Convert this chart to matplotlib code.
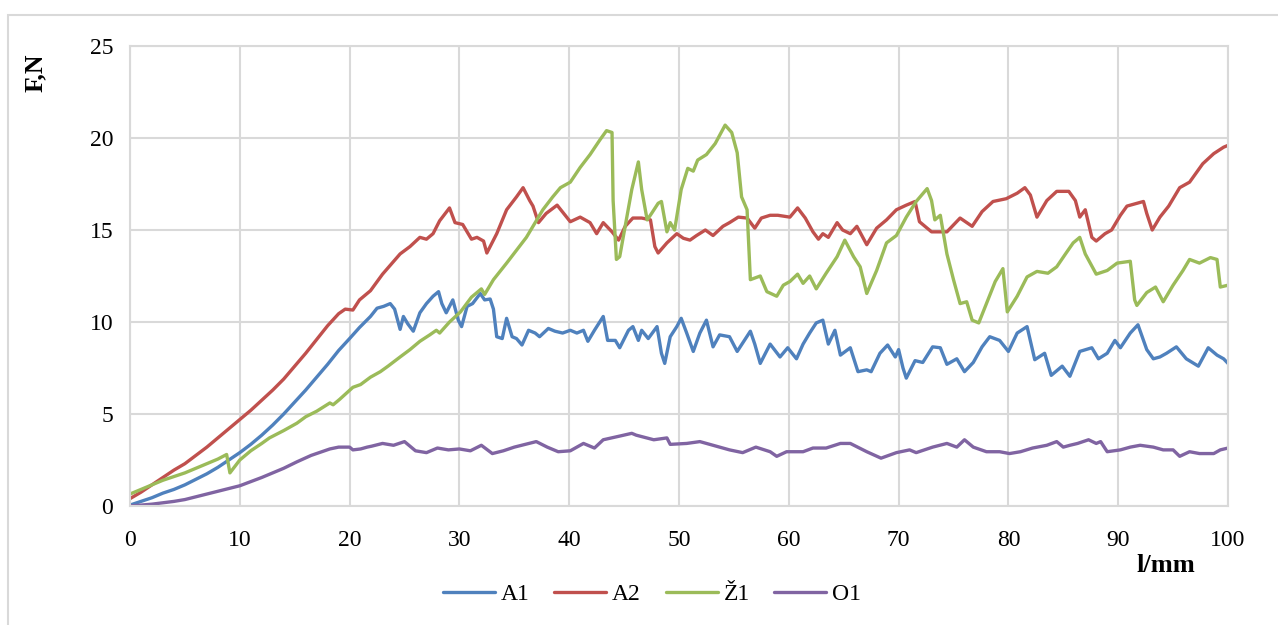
import matplotlib
matplotlib.use("Agg")
import matplotlib.pyplot as plt
from matplotlib.patches import Rectangle

plt.rcParams["font.family"] = ["Liberation Serif", "DejaVu Serif"]

# Force F (N) against travel l (mm) for the four samples
a1_x = [0, 1, 2, 3, 4, 5, 6, 7, 8, 9, 10, 11, 12, 13, 14, 15, 16, 17, 18, 19, 20,
        20.9, 21.9, 22.5, 23.1, 23.7, 24.1, 24.6, 24.9, 25.3, 25.8, 26.4, 27.0,
        27.6, 28.1, 28.4, 28.8, 29.4, 29.9, 30.2, 30.7, 31.2, 31.9, 32.3, 32.8,
        33.1, 33.4, 33.9, 34.3, 34.8, 35.2, 35.7, 36.3, 36.9, 37.3, 38.1, 38.7,
        39.4, 40.1, 40.7, 41.3, 41.7, 42.3, 43.1, 43.5, 44.2, 44.6, 45.4, 45.8,
        46.3, 46.6, 47.2, 48.0, 48.4, 48.7, 49.2, 49.8, 50.2, 50.7, 51.3, 51.9,
        52.5, 53.1, 53.7, 54.6, 55.3, 56.5, 56.9, 57.4, 58.3, 59.2, 59.9, 60.7,
        61.3, 61.9, 62.5, 63.1, 63.6, 64.2, 64.7, 65.6, 66.3, 67.1, 67.5, 68.3,
        69.0, 69.7, 70.0, 70.4, 70.7, 71.5, 72.2, 73.1, 73.8, 74.4, 75.3, 76.0,
        76.8, 77.6, 78.3, 79.2, 80.0, 80.8, 81.7, 82.4, 83.3, 83.9, 84.9, 85.6,
        86.5, 87.6, 88.2, 89.0, 89.7, 90.2, 91.1, 91.8, 92.6, 93.2, 93.8, 94.4,
        95.3, 96.2, 97.3, 98.2, 99.0, 99.6, 100]
a1_y = [0.05, 0.25, 0.45, 0.7, 0.9, 1.15, 1.45, 1.75, 2.1, 2.5, 2.9, 3.35, 3.85,
        4.4, 5.0, 5.65, 6.3, 7.0, 7.7, 8.45, 9.1,
        9.7, 10.3, 10.75, 10.85, 11.0, 10.7, 9.6, 10.3, 9.9, 9.5, 10.5, 11.0,
        11.4, 11.65, 11.0, 10.5, 11.2, 10.1, 9.75, 10.85, 11.0, 11.55, 11.2, 11.25,
        10.7, 9.2, 9.1, 10.2, 9.2, 9.1, 8.75, 9.55, 9.4, 9.2, 9.65, 9.5,
        9.4, 9.55, 9.4, 9.55, 8.95, 9.55, 10.3, 9.0, 9.0, 8.6, 9.55, 9.75,
        9.0, 9.55, 9.1, 9.75, 8.3, 7.75, 9.2, 9.75, 10.2, 9.4, 8.4, 9.4,
        10.1, 8.65, 9.3, 9.2, 8.4, 9.5, 8.8, 7.75, 8.8, 8.1, 8.6, 8.0,
        8.8, 9.4, 9.95, 10.1, 8.8, 9.55, 8.2, 8.6, 7.3, 7.4, 7.3, 8.3,
        8.75, 8.1, 8.5, 7.5, 6.95, 7.9, 7.8, 8.65, 8.6, 7.7, 8.0, 7.3,
        7.8, 8.65, 9.2, 9.0, 8.4, 9.4, 9.75, 7.95, 8.3, 7.1, 7.6, 7.05,
        8.4, 8.6, 8.0, 8.3, 9.0, 8.6, 9.4, 9.85, 8.5, 8.0, 8.1, 8.3,
        8.65, 8.0, 7.6, 8.6, 8.2, 8.0, 7.75]

a2_x = [0, 1, 2, 3, 4, 5, 6, 7, 8, 9, 10, 11, 12, 13, 14, 15, 16, 17, 18, 19,
        19.6, 20.3, 20.9, 21.9, 23.0, 24.6, 25.5, 26.4, 27.0, 27.6, 28.2, 29.1,
        29.6, 30.3, 31.1, 31.6, 32.2, 32.5, 33.4, 34.3, 35.2, 35.8, 36.4, 36.7,
        37.2, 37.9, 38.9, 40.1, 41.0, 41.9, 42.5, 43.1, 43.9, 44.5, 45.1, 45.8,
        46.6, 47.4, 47.8, 48.1, 48.9, 49.8, 50.4, 51.0, 51.6, 52.4, 53.1, 54.0,
        54.6, 55.4, 56.2, 56.9, 57.5, 58.3, 59.0, 60.1, 60.8, 61.5, 62.2, 62.7,
        63.1, 63.6, 64.4, 64.9, 65.6, 66.2, 67.1, 68.0, 68.9, 69.8, 70.7, 71.5,
        71.9, 73.0, 74.4, 75.6, 76.7, 77.6, 78.6, 79.8, 80.8, 81.5, 82.0, 82.6,
        83.5, 84.4, 85.5, 86.1, 86.5, 87.0, 87.6, 88.0, 88.8, 89.4, 90.2, 90.8,
        91.7, 92.3, 92.6, 93.1, 93.8, 94.6, 95.6, 96.5, 97.7, 98.7, 99.6, 100]
a2_y = [0.4, 0.75, 1.15, 1.55, 1.95, 2.3, 2.75, 3.2, 3.7, 4.2, 4.7, 5.2, 5.75,
        6.3, 6.9, 7.6, 8.3, 9.05, 9.8, 10.45,
        10.7, 10.65, 11.2, 11.7, 12.6, 13.7, 14.1, 14.6, 14.5, 14.8, 15.5, 16.2,
        15.4, 15.3, 14.5, 14.6, 14.4, 13.75, 14.8, 16.1, 16.8, 17.3, 16.6, 16.3,
        15.4, 15.9, 16.35, 15.45, 15.7, 15.4, 14.8, 15.4, 14.9, 14.45, 15.2, 15.65,
        15.65, 15.55, 14.1, 13.75, 14.3, 14.8, 14.55, 14.45, 14.7, 15.0, 14.7, 15.2,
        15.4, 15.7, 15.65, 15.1, 15.65, 15.8, 15.8, 15.7, 16.2, 15.65, 14.9, 14.5,
        14.8, 14.6, 15.4, 15.0, 14.8, 15.2, 14.2, 15.1, 15.55, 16.1, 16.35, 16.55,
        15.45, 14.9, 14.9, 15.65, 15.2, 16.0, 16.55, 16.7, 17.0, 17.3, 16.9, 15.7,
        16.6, 17.1, 17.1, 16.6, 15.7, 16.1, 14.6, 14.4, 14.8, 15.0, 15.8, 16.3,
        16.45, 16.55, 15.9, 15.0, 15.7, 16.3, 17.3, 17.6, 18.6, 19.15, 19.5, 19.6]

z1_x = [0, 1, 2, 3, 4, 5, 6, 7, 8, 8.8, 9.1, 10.0, 11, 12, 12.7, 14, 15.2, 16,
        17, 18.2, 18.5, 19.1, 20.3, 21.0, 21.9, 22.8, 23.5, 24.6, 25.5, 26.4,
        27.3, 27.9, 28.2, 29.1, 30.1, 31.1, 32.0, 32.3, 33.1, 34.3, 35.2, 36.1,
        37.6, 38.5, 39.2, 40.1, 41.0, 41.9, 42.8, 43.4, 43.9, 44.0, 44.3, 44.6,
        45.1, 45.7, 46.3, 46.6, 47.1, 47.5, 48.1, 48.4, 48.9, 49.2, 49.6, 50.2,
        50.8, 51.3, 51.7, 52.5, 53.3, 54.2, 54.8, 55.3, 55.7, 56.2, 56.5, 57.4,
        58.0, 58.9, 59.5, 60.1, 60.8, 61.3, 61.9, 62.5, 63.4, 64.4, 65.1, 65.9,
        66.5, 67.1, 68.0, 68.9, 69.8, 70.7, 71.6, 72.6, 73.0, 73.3, 73.8, 74.4,
        75.0, 75.6, 76.2, 76.7, 77.3, 78.0, 78.8, 79.5, 79.9, 80.8, 81.7, 82.6,
        83.6, 84.4, 85.2, 85.9, 86.5, 87.0, 88.0, 89.0, 89.9, 91.1, 91.5, 91.7,
        92.6, 93.4, 94.1, 95.0, 95.9, 96.5, 97.4, 98.4, 99.0, 99.3, 100]
z1_y = [0.65, 0.9, 1.15, 1.4, 1.6, 1.8, 2.05, 2.3, 2.55, 2.8, 1.8, 2.5, 3.0, 3.4,
        3.7, 4.1, 4.5, 4.85, 5.15, 5.6, 5.5, 5.8, 6.45, 6.6, 7.0, 7.3, 7.6, 8.1,
        8.5, 8.95, 9.3, 9.55, 9.4, 10.0, 10.55, 11.35, 11.8, 11.5, 12.3, 13.2,
        13.9, 14.6, 16.1, 16.8, 17.3, 17.6, 18.4, 19.1, 19.9, 20.4, 20.3, 16.6,
        13.4, 13.55, 15.2, 17.2, 18.7, 17.2, 15.55, 15.9, 16.45, 16.55, 14.9, 15.4,
        15.0, 17.2, 18.35, 18.2, 18.8, 19.1, 19.7, 20.7, 20.3, 19.2, 16.8, 16.1,
        12.3, 12.5, 11.65, 11.4, 12.0, 12.2, 12.6, 12.1, 12.5, 11.8, 12.65, 13.55,
        14.45, 13.55, 13.0, 11.55, 12.8, 14.3, 14.7, 15.7, 16.55, 17.25, 16.6,
        15.55, 15.8, 13.7, 12.3, 11.0, 11.1, 10.1, 9.95, 11.0, 12.2, 12.9, 10.55,
        11.4, 12.45, 12.75, 12.65, 13.0, 13.7, 14.3, 14.6, 13.7, 12.6, 12.8, 13.2,
        13.3, 11.2, 10.9, 11.6, 11.9, 11.1, 12.0, 12.8, 13.4, 13.2, 13.5, 13.4,
        11.9, 12.0]

o1_x = [0, 2, 4, 5, 6, 8, 10, 12, 14, 15.2, 16.5, 18.2, 19, 20, 20.3, 21, 21.6,
        22, 23, 24, 25, 26, 27, 28, 29, 30, 31, 32, 33, 34, 35, 36, 37, 38, 39,
        40.1, 41.3, 42.3, 43.1, 44.6, 45.7, 46.1, 47.7, 48.9, 49.2, 50.7, 51.9,
        53.1, 54.6, 55.8, 57.0, 58.3, 58.9, 59.8, 61.3, 62.2, 63.4, 64.7, 65.6,
        67.1, 68.4, 69.8, 71.0, 71.6, 73.1, 74.4, 75.3, 76.0, 76.8, 78.0, 79.2,
        80.1, 81.1, 82.2, 83.5, 84.4, 85.0, 85.6, 86.3, 87.3, 88.0, 88.4, 89.0,
        90.2, 91.1, 92.0, 93.2, 94.1, 95.0, 95.6, 96.5, 97.4, 98.7, 99.3, 100]
o1_y = [0.0, 0.1, 0.25, 0.35, 0.5, 0.8, 1.1, 1.55, 2.05, 2.4, 2.75, 3.1, 3.2,
        3.2, 3.05, 3.1, 3.2, 3.25, 3.4, 3.3, 3.5, 3.0, 2.9, 3.15, 3.05, 3.1,
        3.0, 3.3, 2.85, 3.0, 3.2, 3.35, 3.5, 3.2, 2.95,
        3.0, 3.4, 3.15, 3.6, 3.8, 3.95, 3.85, 3.6, 3.7, 3.35, 3.4, 3.5,
        3.3, 3.05, 2.9, 3.2, 2.95, 2.7, 2.95, 2.95, 3.15, 3.15, 3.4, 3.4,
        2.95, 2.6, 2.9, 3.05, 2.9, 3.2, 3.4, 3.2, 3.6, 3.2, 2.95, 2.95,
        2.85, 2.95, 3.15, 3.3, 3.5, 3.2, 3.3, 3.4, 3.6, 3.4, 3.5, 2.95,
        3.05, 3.2, 3.3, 3.2, 3.05, 3.05, 2.7, 2.95, 2.85, 2.85, 3.05, 3.15]

series = [
    ("A1", a1_x, a1_y, "#4F81BD"),
    ("A2", a2_x, a2_y, "#C0504D"),
    ("Ž1", z1_x, z1_y, "#9BBB59"),
    ("O1", o1_x, o1_y, "#8064A2"),
]

x_ticks = list(range(0, 101, 10))
y_ticks = list(range(0, 26, 5))

GRID = "#D9D9D9"

fig = plt.figure(figsize=(12.78, 6.25), dpi=100)
# chart-area frame
fig.patches.append(Rectangle((8 / 1278, -0.05), 1.1, 1 - 15 / 625 + 0.05,
                             transform=fig.transFigure, fill=False,
                             edgecolor=GRID, linewidth=1.5))

ax = fig.add_axes([130 / 1278, 1 - 506 / 625, 1098 / 1278, 460 / 625])
for name, xs, ys, color in series:
    ax.plot(xs, ys, color=color, linewidth=2.4, label=name,
            solid_joinstyle="round", solid_capstyle="round")

ax.set_xlim(0, 100)
ax.set_ylim(0, 25)
ax.set_xticks(x_ticks)
ax.set_yticks(y_ticks)
ax.grid(True, color=GRID, linewidth=1.5)
ax.set_axisbelow(True)
for sp in ax.spines.values():
    sp.set_color(GRID)
    sp.set_linewidth(1.5)
ax.tick_params(length=0, labelsize=17, colors="black")
ax.tick_params(axis="x", pad=17)
ax.tick_params(axis="y", pad=12)

fig.text(35 / 1278, 1 - 73 / 625, "F,N", rotation=90, ha="center", va="center",
         fontsize=18.5, fontweight="bold")
fig.text(1166 / 1278, 1 - 566 / 625, "l/mm", ha="center", va="center",
         fontsize=19, fontweight="bold")

ax.legend(loc="center", bbox_to_anchor=(652 / 1278, 1 - 594 / 625),
          bbox_transform=fig.transFigure, ncol=4, frameon=False,
          fontsize=17, handlelength=2.2, handletextpad=0.25, columnspacing=1.05)

fig.savefig("out.png", dpi=100)
